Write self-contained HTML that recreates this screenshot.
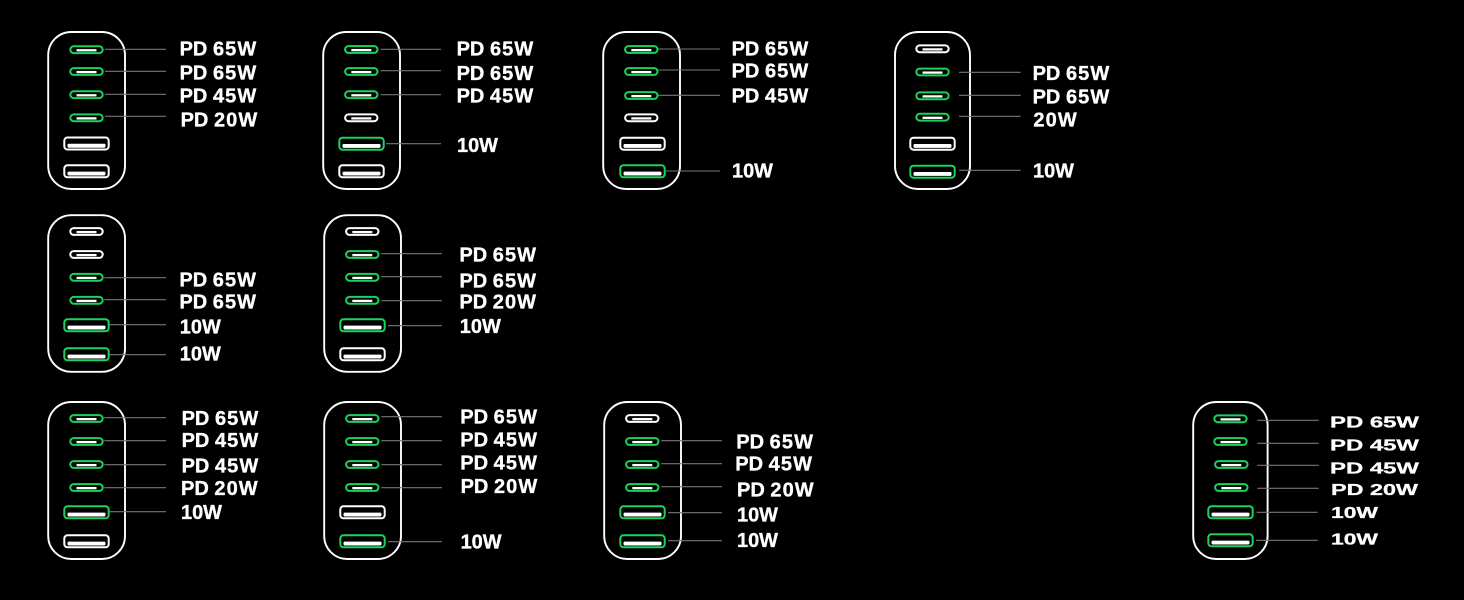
<!DOCTYPE html>
<html>
<head>
<meta charset="utf-8">
<style>
html,body{margin:0;padding:0;background:#000;}
svg{display:block;}
text{font-family:"Liberation Sans",sans-serif;font-weight:700;fill:#fff;stroke:#fff;stroke-width:.35px;font-size:20px;transform:translateX(1px);}
text tspan{letter-spacing:1.1px;}
text.s{font-size:15.5px;stroke-width:.3px;transform:none;}
text.s tspan{letter-spacing:0;}
.b{fill:none;stroke:#fff;stroke-width:1.9;}
.l{stroke:#777;stroke-width:1.1;fill:none;}
</style>
</head>
<body>
<svg width="1464" height="600" viewBox="0 0 1464 600" xmlns="http://www.w3.org/2000/svg">
<defs>
<g id="cg"><rect x="-16.2" y="-3.4" width="32.4" height="6.8" rx="3.4" fill="none" stroke="#1ad35e" stroke-width="2"/><rect x="-10" y="-0.55" width="20" height="2.3" fill="#fff"/></g>
<g id="cw"><rect x="-16.2" y="-3.4" width="32.4" height="6.8" rx="3.4" fill="none" stroke="#fff" stroke-width="2"/><rect x="-10" y="-0.55" width="20" height="2.3" fill="#fff"/></g>
<g id="ag"><rect x="-22.2" y="-6" width="44.4" height="12" rx="3.2" fill="none" stroke="#1ad35e" stroke-width="2"/><rect x="-19" y="0.3" width="38" height="3.9" rx="1.2" fill="#fff"/></g>
<g id="aw"><rect x="-22.2" y="-6" width="44.4" height="12" rx="3.2" fill="none" stroke="#fff" stroke-width="2"/><rect x="-19" y="0.3" width="38" height="3.9" rx="1.2" fill="#fff"/></g>
</defs>

<!-- 1 -->
<rect class="b" x="48.2" y="32" width="76.8" height="157" rx="23"/>
<use href="#cg" x="86.5" y="49.7"/><use href="#cg" x="86.5" y="71.5"/><use href="#cg" x="86.5" y="94.7"/><use href="#cg" x="86.5" y="117.8"/>
<use href="#aw" x="86.5" y="143.5"/><use href="#aw" x="86.5" y="171.3"/>
<path class="l" d="M105 49.3H166M105 71.3H166M105 94.3H166M105 116.3H166"/>
<text x="178.6" y="55.7">PD <tspan>65W</tspan></text>
<text x="178.6" y="79.5">PD <tspan>65W</tspan></text>
<text x="178.6" y="102.7">PD <tspan>45W</tspan></text>
<text x="179.6" y="126.7">PD <tspan>20W</tspan></text>

<!-- 2 -->
<rect class="b" x="323.2" y="32" width="76.8" height="157" rx="23"/>
<use href="#cg" x="361.3" y="49.5"/><use href="#cg" x="361.3" y="71.5"/><use href="#cg" x="361.3" y="94.7"/><use href="#cw" x="361.3" y="117.8"/>
<use href="#ag" x="361.5" y="143.7"/><use href="#aw" x="361.5" y="171.3"/>
<path class="l" d="M380.7 49.3H441M380.7 70.7H441M380.7 94.7H441M386 143.7H441"/>
<text x="455.6" y="55.7">PD <tspan>65W</tspan></text>
<text x="455.6" y="80">PD <tspan>65W</tspan></text>
<text x="455.6" y="102.3">PD <tspan>45W</tspan></text>
<text x="456" y="152" textLength="41" lengthAdjust="spacingAndGlyphs">10W</text>

<!-- 3 -->
<rect class="b" x="603.2" y="32" width="76.8" height="157" rx="23"/>
<use href="#cg" x="641.3" y="49.5"/><use href="#cg" x="641.3" y="71.5"/><use href="#cg" x="641.3" y="95.5"/><use href="#cw" x="641.3" y="117.8"/>
<use href="#aw" x="642.5" y="143.7"/><use href="#ag" x="642.5" y="171.3"/>
<path class="l" d="M658.5 49H720M658.5 70H720M658.5 95.3H720M666 171H720"/>
<text x="730.6" y="55.7">PD <tspan>65W</tspan></text>
<text x="730.6" y="77.7">PD <tspan>65W</tspan></text>
<text x="730.6" y="102.7">PD <tspan>45W</tspan></text>
<text x="731" y="177.3" textLength="41" lengthAdjust="spacingAndGlyphs">10W</text>

<!-- 4 -->
<rect class="b" x="895" y="32" width="75" height="157" rx="23"/>
<use href="#cw" x="932.5" y="48.8"/><use href="#cg" x="932.5" y="72"/><use href="#cg" x="932.5" y="95.8"/><use href="#cg" x="932.5" y="117.2"/>
<use href="#aw" x="932.5" y="143.7"/><use href="#ag" x="932.5" y="171.7"/>
<path class="l" d="M959 72.3H1020.7M959 95.3H1020.7M959 116.3H1020.7M959 170.3H1020.7"/>
<text x="1031.6" y="80">PD <tspan>65W</tspan></text>
<text x="1031.6" y="103.5">PD <tspan>65W</tspan></text>
<text x="1032.4" y="126.7"><tspan>20W</tspan></text>
<text x="1032" y="177.3" textLength="41" lengthAdjust="spacingAndGlyphs">10W</text>

<!-- 5 -->
<rect class="b" x="48.2" y="215.2" width="76.8" height="156.6" rx="23"/>
<use href="#cw" x="86.5" y="231.5"/><use href="#cw" x="86.5" y="254.5"/><use href="#cg" x="86.5" y="277.3"/><use href="#cg" x="86.5" y="300.3"/>
<use href="#ag" x="86.5" y="325.3"/><use href="#ag" x="86.5" y="354.3"/>
<path class="l" d="M104.3 277.7H166M104.3 299.7H166M109.7 324.7H166M109.7 354.7H166"/>
<text x="178.4" y="286.7">PD <tspan>65W</tspan></text>
<text x="178.4" y="308.7">PD <tspan>65W</tspan></text>
<text x="178.8" y="333.7" textLength="41" lengthAdjust="spacingAndGlyphs">10W</text>
<text x="178.8" y="360.5" textLength="41" lengthAdjust="spacingAndGlyphs">10W</text>

<!-- 6 -->
<rect class="b" x="324.2" y="215.2" width="76.8" height="156.6" rx="23"/>
<use href="#cw" x="362.3" y="231.5"/><use href="#cg" x="362.3" y="254.5"/><use href="#cg" x="362.3" y="277.3"/><use href="#cg" x="362.3" y="300.3"/>
<use href="#ag" x="362.5" y="325.3"/><use href="#aw" x="362.5" y="354.3"/>
<path class="l" d="M381.3 253.7H442M381.3 276.7H442M381.3 300.7H442M388 325.7H442"/>
<text x="458.4" y="261.3">PD <tspan>65W</tspan></text>
<text x="458.4" y="287.3">PD <tspan>65W</tspan></text>
<text x="458.4" y="308.5">PD <tspan>20W</tspan></text>
<text x="458.8" y="333" textLength="41" lengthAdjust="spacingAndGlyphs">10W</text>

<!-- 7 -->
<rect class="b" x="48.2" y="402" width="76.8" height="157" rx="23"/>
<use href="#cg" x="86.5" y="418.5"/><use href="#cg" x="86.5" y="441.5"/><use href="#cg" x="86.5" y="464.5"/><use href="#cg" x="86.5" y="487.5"/>
<use href="#ag" x="86.5" y="512.3"/><use href="#aw" x="86.5" y="541.3"/>
<path class="l" d="M104.3 417.7H166M104.3 440.7H166M104.3 464.7H166M104.3 487.7H166M109.7 511.7H166"/>
<text x="180.6" y="425">PD <tspan>65W</tspan></text>
<text x="180.6" y="447">PD <tspan>45W</tspan></text>
<text x="180.6" y="472.3">PD <tspan>45W</tspan></text>
<text x="180" y="495">PD <tspan>20W</tspan></text>
<text x="180" y="519" textLength="41" lengthAdjust="spacingAndGlyphs">10W</text>

<!-- 8 -->
<rect class="b" x="324.2" y="402" width="76.8" height="157" rx="23"/>
<use href="#cg" x="362.3" y="418.5"/><use href="#cg" x="362.3" y="441.5"/><use href="#cg" x="362.3" y="464.5"/><use href="#cg" x="362.3" y="487.5"/>
<use href="#aw" x="362.5" y="512.3"/><use href="#ag" x="362.5" y="541.3"/>
<path class="l" d="M381.3 416.7H442M381.3 440.7H442M381.3 464.7H442M381.3 487.7H442M388 541.7H442"/>
<text x="459.3" y="423.7">PD <tspan>65W</tspan></text>
<text x="459.3" y="446.7">PD <tspan>45W</tspan></text>
<text x="459.3" y="469.3">PD <tspan>45W</tspan></text>
<text x="459.6" y="493">PD <tspan>20W</tspan></text>
<text x="459.6" y="548.3" textLength="41" lengthAdjust="spacingAndGlyphs">10W</text>

<!-- 9 -->
<rect class="b" x="604.2" y="402" width="76.8" height="157" rx="23"/>
<use href="#cw" x="642.3" y="418.5"/><use href="#cg" x="642.3" y="441.5"/><use href="#cg" x="642.3" y="464.5"/><use href="#cg" x="642.3" y="487.5"/>
<use href="#ag" x="642.5" y="512.3"/><use href="#ag" x="642.5" y="541.3"/>
<path class="l" d="M661.3 440.7H722M661.3 463.7H722M661.3 486.7H722M668 512.7H722M668 540.7H722"/>
<text x="735.3" y="448.7">PD <tspan>65W</tspan></text>
<text x="734.3" y="470.5">PD <tspan>45W</tspan></text>
<text x="736" y="496.5">PD <tspan>20W</tspan></text>
<text x="736" y="521.3" textLength="41" lengthAdjust="spacingAndGlyphs">10W</text>
<text x="736" y="547" textLength="41" lengthAdjust="spacingAndGlyphs">10W</text>

<!-- 10 -->
<rect class="b" x="1193.2" y="402" width="74.4" height="157" rx="23"/>
<use href="#cg" x="1230.5" y="418.8"/><use href="#cg" x="1230.5" y="441.5"/><use href="#cg" x="1231.3" y="464.5"/><use href="#cg" x="1231.3" y="487.5"/>
<use href="#ag" x="1230.5" y="512.3"/><use href="#ag" x="1230.5" y="540.3"/>
<path class="l" d="M1257.3 420.3H1318.7M1257.3 443.3H1318.7M1257.3 465.3H1318.7M1257.3 488.3H1318.7M1256.7 512.3H1317.7M1256 540.3H1317.7"/>
<text class="s" x="1330" y="427.7" textLength="89" lengthAdjust="spacingAndGlyphs">PD 65W</text>
<text class="s" x="1330" y="450.7" textLength="89" lengthAdjust="spacingAndGlyphs">PD 45W</text>
<text class="s" x="1330" y="473.7" textLength="89" lengthAdjust="spacingAndGlyphs">PD 45W</text>
<text class="s" x="1331" y="495" textLength="87" lengthAdjust="spacingAndGlyphs">PD 20W</text>
<text class="s" x="1331" y="518" textLength="47" lengthAdjust="spacingAndGlyphs">10W</text>
<text class="s" x="1331" y="544.7" textLength="47" lengthAdjust="spacingAndGlyphs">10W</text>
</svg>
</body>
</html>
